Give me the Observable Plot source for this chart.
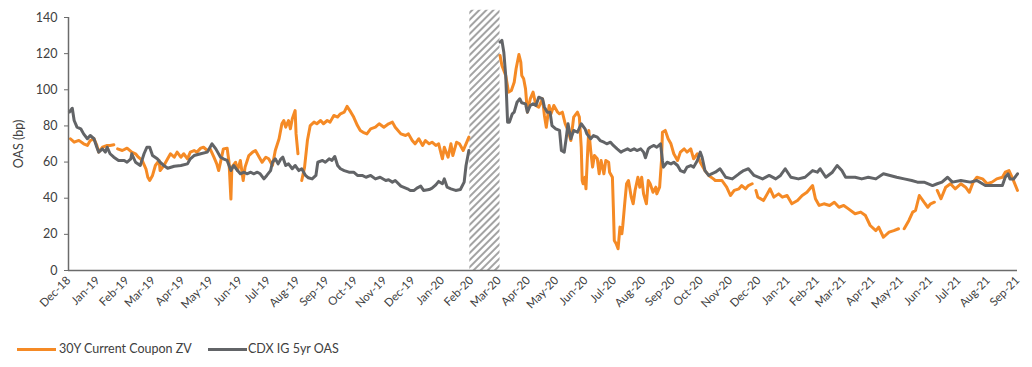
<!DOCTYPE html>
<html>
<head>
<meta charset="utf-8">
<script src="https://cdn.jsdelivr.net/npm/d3@7"></script>
<script src="https://cdn.jsdelivr.net/npm/@observablehq/plot@0.6"></script>
<style>
  body { margin: 0; background: #fff; font-family: Lato, "Open Sans", sans-serif; }
  #wrap { position: relative; width: 1032px; height: 367px; }
  .sw { position: absolute; height: 3px; top: 348px; }
  .lt { position: absolute; top: 341px; font-size: 12.5px; line-height: 16px; color: #404040; white-space: nowrap; }
</style>
</head>
<body>
<div id="wrap"><div id="chart"></div></div>
<script>
// ---- Data (days counted from start date 2018-12-01) ----
const startDate = "2018-12-01";
const endDate = "2021-09-01";
const seriesNames = ["30Y Current Coupon ZV", "CDX IG 5yr OAS"];
const seriesColors = ["#f58a25", "#626467"];
const yLabel = "OAS (bp)";

const ccDays = [2,6,11,16,20,23,27,30,32,36,41,44,48,50,52,57,62,67,71,74,78,82,84,86,89,92,96,97,101,105,108,112,115,119,122,126,129,133,136,140,143,147,150,154,157,159,161,164,168,170,172,173,177,179,182,185,187,191,195,198,202,205,209,212,216,219,223,226,228,230,233,235,237,240,241,243,246,247,250,253,256,260,263,267,270,274,277,281,285,288,292,295,299,302,306,309,312,316,320,325,329,334,339,343,346,352,357,360,364,367,371,375,378,382,385,389,392,396,398,402,405,407,411,414,418,421,424,440,
457,459,463,466,469,472,474,477,479,480,482,484,486,489,492,495,498,502,504,506,509,511,514,518,520,523,526,529,532,535,539,541,543,544,545,547,548,550,551,553,555,557,560,562,564,567,569,572,573,576,577,578,580,582,584,586,587,589,591,593,596,598,600,603,605,607,609,612,614,616,619,622,623,626,628,629,632,635,638,641,645,648,652,655,659,662,666,669,674,678,683,
685,692,697,701,705,710,713,717,720,724,726,728,730,736,740,743,747,752,756,761,766,772,777,782,788,791,795,800,806,811,816,821,826,833,839,844,849,855,858,863,869,874,879,881,885,890,894,897,901,906,910,913,917,918,920,924,929,934,939,945,950,954,958,962,968,973,978,983,989,992,996,1000,1005];
const ccValues = [72.9,71,72,70.1,69.2,71.9,72.9,69.2,65.5,68.2,69.2,69.2,69.6,null,67.3,66.4,67.7,65.5,64.6,62.7,60.9,56.3,51.6,49.8,52.6,58.1,60.9,55.3,58.1,61.8,64.6,62.7,65.5,62.7,64.6,61.8,65.5,66.4,65.5,67.7,68.2,66.4,67.3,62.7,59,55.3,59.9,67.3,67.7,59.9,39.5,57.2,59.9,55.3,60.9,49.8,57.2,63.6,65.5,66.4,62.7,59.9,62.7,61.8,58.1,66.4,72.9,81.2,83,79.3,83,78.4,84,88.5,75.6,64.6,null,49.8,57.2,71.9,80.2,82.1,81.2,83,81.2,83,82.1,85.8,84.9,86.7,87.6,90.8,87.6,84.9,80.2,77.5,76.5,75.6,78.4,79.3,81.2,79.3,81.2,82.1,79.3,75.6,74.7,75.6,71.9,70.1,72.9,69.2,71.9,70.1,71,69.2,70.1,61.8,68.2,62.7,70.1,63.6,71,70.1,66.4,70.1,73.8,null,
119,113.4,107.9,98.7,99.6,104.2,111.6,119.5,115.3,107.9,106.1,100.5,87.6,95,98.7,91.3,90.4,95,85.8,79.3,91.3,86.7,91.3,87.6,86.7,87.6,81.2,77.5,71.9,84.9,87.6,84.9,68.2,49.8,48,51.6,45.2,68.2,77.5,66.4,57.2,63.6,61.8,53.5,60.9,53.5,60.9,59.9,54.4,51.6,35,16.6,14.8,12,24,20.3,24.9,36.9,48,49.8,40.6,36.9,44.3,51.6,46.1,51.6,42.4,36.9,49.8,48,43.3,46.1,42.4,46.1,60.9,76.5,77.5,72.9,70.1,64.6,60.9,65.5,67.3,65.5,67.3,61.8,64.6,59.9,55.3,52.6,50.7,
49.8,49.8,46.1,41.5,44.3,45.2,47,45.2,47,48,null,44.3,40.6,38.7,42.4,45.2,40.6,42.4,40.6,41.5,36.9,38.7,41.5,43.3,47,39.7,36,36.9,36,37.8,35,36,34.1,31.4,32.3,30.4,24.9,22.1,24,18.4,21.2,22.1,23.1,null,23.1,27.7,32.3,33.2,41.5,37.8,35,36.9,37.8,null,44.3,39.7,46.1,48,45.2,48,46.1,43.3,48.9,51.6,50.7,48,48.9,50.7,51.6,54.4,55.3,50.7,44.3];

const cdxDays = [1,4,6,9,13,16,20,23,27,30,32,36,39,41,44,48,53,59,62,66,67,71,76,80,83,86,89,94,97,101,105,112,119,126,129,133,140,147,152,156,161,164,168,172,175,179,182,186,189,193,196,200,203,207,210,214,216,219,222,225,227,230,233,237,240,244,247,251,254,258,262,264,269,272,276,279,282,285,288,292,297,302,306,311,315,320,325,330,336,339,343,346,352,359,362,366,369,373,376,382,385,389,392,396,398,401,405,410,415,419,421,424,440,
457,459,461,463,465,467,470,472,475,478,480,484,486,489,492,495,498,502,504,507,510,512,516,520,522,525,527,529,532,535,539,543,547,549,553,556,560,563,567,570,574,577,581,585,588,592,595,599,602,606,609,611,614,616,620,623,627,629,630,634,638,641,645,648,652,655,659,662,666,669,671,674,678,681,
685,690,696,703,710,715,720,726,735,742,749,754,759,765,773,780,788,793,796,802,809,814,819,823,833,840,847,855,863,870,877,885,893,899,906,915,920,925,931,936,945,955,962,971,980,989,992,995,997,1001,1005];
const cdxValues = [87.7,89.8,83,79.3,78.4,75.6,72.9,74.7,72.9,68.2,65.5,67.3,65.5,68.2,64.6,62.7,60.9,60.9,59.9,61.8,64.6,59.9,58.1,64.6,68.2,68.2,63.6,61.8,59.9,58.1,56.6,57.7,58.1,59,61.8,63.6,64.6,65.5,70.1,67.3,62.7,61.8,60.9,55.3,58.1,55.3,53.5,54.4,53.5,54.4,53.5,54.4,53.5,50.7,52.6,55.3,59.9,61.8,59,61.8,62.7,58.1,59,56.3,58.1,55.3,56.3,52.6,51.3,50.7,52.6,59.9,60.9,59.9,61.8,60.9,63.1,58.1,56.3,55.3,54.4,54.4,52.6,52.6,51.6,52.6,50.7,51.6,49.8,50.2,48.9,49.8,46.7,45.2,44.3,44.3,45.6,46.7,44.3,44.8,45.6,47.4,49.3,48,50.7,46.1,45.2,44.3,44.8,48.9,58.1,66.4,null,
126.4,127.3,120.8,107.9,82.1,82.1,86.7,87.6,93.1,95,92.8,92.2,87.6,91.3,92.2,91.3,95.9,95,90.4,87.6,87.6,80.2,78.4,77.5,66.4,65.5,72.9,81.2,72.9,77.5,76.5,81.2,78.4,75.6,72.9,74.7,73.8,71.9,71,70.1,71,69.2,67.3,65.5,66.4,67.3,66.4,67.3,66.4,67.3,65.5,62.4,67.3,68.2,69.2,68.2,70.1,60.9,57.2,59.9,59,59.9,58.1,55.3,54.4,57.2,58.1,57.2,60.9,65.5,62.7,55.3,52.6,53.5,
54.4,56.3,51.6,50.7,53.5,55.3,56.3,52.6,50.7,52.6,50.7,52.6,56.3,51.6,50.7,51.6,55.3,54.4,56.3,51.6,54.4,58.1,55.3,51.6,51.6,50.7,51.6,50.7,53.5,52.6,51.6,50.7,49.8,48.9,48.9,47,48,48.9,51.6,48.9,49.8,48.9,49.8,47,47,47,51.6,53.5,50.7,50.7,53.5];

// Gap period (hatched band), in days from start, and its top value
const bandDays = [425, 457];
const bandTop = 144;
const yTicks = [0, 20, 40, 60, 80, 100, 120, 140];

// ---- Build tables ----
const t0 = d3.utcParse("%Y-%m-%d")(startDate);
const t1 = d3.utcParse("%Y-%m-%d")(endDate);
const toDate = d => d3.utcDay.offset(t0, d);
const ccData = ccDays.map((d, i) => ({date: toDate(d), value: ccValues[i]}));
const cdxData = cdxDays.map((d, i) => ({date: toDate(d), value: cdxValues[i]}));
const band = [{x1: toDate(bandDays[0]), x2: toDate(bandDays[1]), y1: 0, y2: bandTop}];
const monthTicks = d3.utcMonth.range(t0, d3.utcDay.offset(t1, 1));

const axisColor = "#6b6b6b";
const textColor = "#404040";

const chart = Plot.plot({
  width: 1032,
  height: 325,
  marginLeft: 68,
  marginRight: 15,
  marginTop: 17,
  marginBottom: 55,
  style: {fontFamily: "Lato, 'Open Sans', sans-serif", color: textColor, background: "#fff"},
  x: {type: "utc", domain: [t0, t1]},
  y: {domain: [0, 140]},
  marks: [
    Plot.rect(band, {x1: "x1", x2: "x2", y1: "y1", y2: "y2", fill: "url(#hatch)"}),
    Plot.line(ccData, {x: "date", y: "value", stroke: seriesColors[0], strokeWidth: 3, strokeLinejoin: "round", strokeLinecap: "round"}),
    Plot.line(cdxData, {x: "date", y: "value", stroke: seriesColors[1], strokeWidth: 3, strokeLinejoin: "round", strokeLinecap: "round"}),
    Plot.ruleY([0], {stroke: axisColor, strokeWidth: 1.5}),
    Plot.ruleX([t0], {y1: 0, y2: 140, stroke: axisColor, strokeWidth: 1.5}),
    Plot.axisY({ticks: yTicks, tickSize: 4, tickPadding: 7, fontSize: 12.5, stroke: axisColor, label: null}),
    Plot.text([yLabel], {frameAnchor: "left", dx: -50, rotate: -90, fontSize: 12.5, fill: textColor, textAnchor: "middle"}),
    Plot.axisX({ticks: monthTicks, tickFormat: d3.utcFormat("%b-%y"), tickRotate: -45, tickSize: 0,
      tickPadding: 8, fontSize: 11.5, label: null})
  ]
});

// hatch pattern for the gap band
const defs = d3.select(chart).insert("defs", ":first-child");
const pat = defs.append("pattern").attr("id", "hatch").attr("patternUnits", "userSpaceOnUse")
  .attr("width", 5).attr("height", 5).attr("patternTransform", "rotate(45)");
pat.append("rect").attr("width", 5).attr("height", 5).attr("fill", "#fff");
pat.append("line").attr("x1", 1).attr("y1", 0).attr("x2", 1).attr("y2", 5)
  .attr("stroke", "#a3a3a3").attr("stroke-width", 2);

const wrap = document.getElementById("wrap");
document.getElementById("chart").appendChild(chart);

// legend
const legendX = [[17, 59], [208, 248]];
seriesNames.forEach((name, i) => {
  const sw = document.createElement("div");
  sw.className = "sw";
  sw.style.left = legendX[i][0] + "px";
  sw.style.width = "39px";
  sw.style.background = seriesColors[i];
  wrap.appendChild(sw);
  const lt = document.createElement("div");
  lt.className = "lt";
  lt.style.left = legendX[i][1] + "px";
  lt.textContent = name;
  wrap.appendChild(lt);
});
</script>
</body>
</html>
